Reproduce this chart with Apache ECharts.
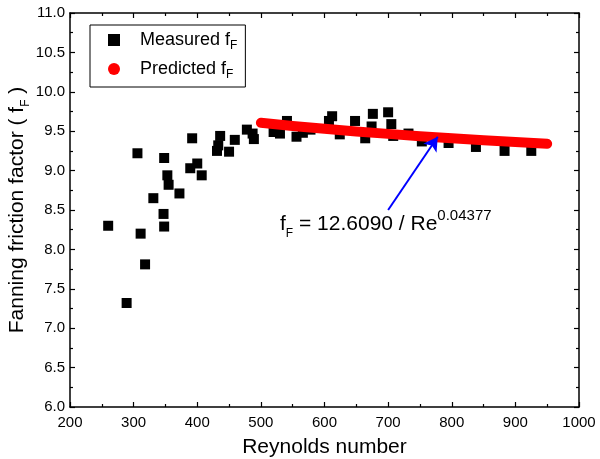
<!DOCTYPE html>
<html>
<head>
<meta charset="utf-8">
<script src="https://cdn.jsdelivr.net/npm/echarts@6/dist/echarts.min.js"></script>
<style>html,body{margin:0;padding:0;background:#fff}#c{width:600px;height:459px}</style>
</head>
<body>
<div id="c"></div>
<script>
// Measured friction factor: [Reynolds number, fF]
const measuredRe = [260, 289, 306, 311, 318, 331, 347, 348, 348, 353, 355, 372, 389, 392, 400, 407, 431, 433, 436, 450, 459, 478, 487, 489,
  520, 530, 541, 556, 566, 578, 607, 612, 624, 648, 664, 674, 676, 700, 705, 708, 732, 753, 795, 838, 883, 925];
const measuredF = [8.30, 7.32, 9.22, 8.20, 7.81, 8.65, 8.45, 8.29, 9.16, 8.94, 8.82, 8.71, 9.03, 9.41, 9.09, 8.94, 9.25, 9.32, 9.44, 9.24, 9.39, 9.52, 9.47, 9.40,
  9.49, 9.47, 9.63, 9.43, 9.48, 9.52, 9.63, 9.69, 9.46, 9.63, 9.41, 9.56, 9.72, 9.74, 9.59, 9.44, 9.47, 9.37, 9.35, 9.30, 9.25, 9.25];
// Predicted friction factor curve
const predRe = [500, 550, 600, 650, 700, 750, 800, 850, 900, 950];
const predF  = [9.606, 9.566, 9.530, 9.496, 9.466, 9.437, 9.411, 9.386, 9.362, 9.340];
// Arrow annotation (data coordinates): tail, head
const arrowTail = [700, 8.50];
const arrowHead = [778, 9.43];
const xTicks = {min: 200, max: 1000, interval: 100};
const yTicks = {min: 6.0, max: 11.0, interval: 0.5};

const FONT = 'Liberation Sans, Arial, sans-serif';
const chart = echarts.init(document.getElementById('c'), null, {renderer: 'canvas'});

const axisCommon = {
  axisLine: {show: true, lineStyle: {color: '#000', width: 1.5}},
  axisTick: {show: true, inside: true, length: 5, lineStyle: {color: '#000', width: 1.2}},
  minorTick: {show: true, splitNumber: 2, length: 3, lineStyle: {color: '#000', width: 1.2}},
  splitLine: {show: false}
};

const option = {
  animation: false,
  backgroundColor: '#fff',
  textStyle: {fontFamily: FONT},
  grid: {left: 70, right: 21, top: 13, bottom: 52, containLabel: false, outerBoundsMode: 'none'},
  legend: {
    left: 90, top: 25,
    orient: 'vertical',
    borderColor: '#000', borderWidth: 1,
    padding: [6, 8, 6, 18],
    itemGap: 8,
    itemWidth: 12, itemHeight: 12,
    data: [
      {name: 'Measured', icon: 'rect'},
      {name: 'Predicted', icon: 'circle'}
    ],
    formatter: function (n) { return '{a|' + n + ' f}{s|F}'; },
    textStyle: {
      color: '#000',
      rich: {
        a: {fontSize: 18, fontFamily: FONT, color: '#000', lineHeight: 24, verticalAlign: 'middle', padding: [0, 0, 0, 15]},
        s: {fontSize: 12, fontFamily: FONT, color: '#000', lineHeight: 12, verticalAlign: 'bottom'}
      }
    }
  },
  xAxis: [
    Object.assign({
      type: 'value', min: xTicks.min, max: xTicks.max, interval: xTicks.interval,
      name: 'Reynolds number', nameLocation: 'middle', nameGap: 30,
      nameTextStyle: {fontSize: 21, color: '#000', fontFamily: FONT},
      axisLabel: {fontSize: 15, color: '#000', margin: 8, fontFamily: FONT, formatter: v => String(v)}
    }, axisCommon),
    Object.assign({
      type: 'value', position: 'top', min: xTicks.min, max: xTicks.max, interval: xTicks.interval,
      axisLabel: {show: false}
    }, axisCommon)
  ],
  yAxis: [
    Object.assign({
      type: 'value', min: yTicks.min, max: yTicks.max, interval: yTicks.interval,
      name: '{a|Fanning friction factor ( f}{s|F}{a| )}', nameLocation: 'middle', nameGap: 38,
      nameMoveOverlap: false,
      nameTextStyle: {
        color: '#000',
        rich: {
          a: {fontSize: 21, fontFamily: FONT, color: '#000', lineHeight: 30, verticalAlign: 'middle'},
          s: {fontSize: 12, fontFamily: FONT, color: '#000', lineHeight: 12, verticalAlign: 'bottom'}
        }
      },
      axisLabel: {fontSize: 15, color: '#000', margin: 5, fontFamily: FONT, formatter: v => v.toFixed(1)}
    }, axisCommon),
    Object.assign({
      type: 'value', position: 'right', min: yTicks.min, max: yTicks.max, interval: yTicks.interval,
      axisLabel: {show: false}
    }, axisCommon)
  ],
  series: [
    {
      name: 'Measured', type: 'scatter', symbol: 'rect', symbolSize: 10,
      itemStyle: {color: '#000', opacity: 1},
      data: measuredRe.map((x, i) => [x, measuredF[i]]),
      markLine: {
        silent: true, symbol: ['none', 'arrow'], symbolSize: [12, 14],
        label: {show: false},
        lineStyle: {color: '#0000ff', width: 2, type: 'solid'},
        data: [[{coord: arrowTail}, {coord: arrowHead}]]
      },
      z: 2
    },
    {
      name: 'Predicted', type: 'line', showSymbol: false, symbol: 'circle', symbolSize: 10,
      itemStyle: {color: '#ff0000'},
      lineStyle: {color: '#ff0000', width: 10, cap: 'round', join: 'round'},
      data: predRe.map((x, i) => [x, predF[i]]),
      z: 3
    }
  ],
  graphic: [{
    type: 'text', left: 280, top: 208, z: 10,
    style: {
      text: '{m|f}{s|F}{m| = 12.6090 / Re}{p|0.04377}',
      rich: {
        m: {fontSize: 21, fontFamily: FONT, fill: '#000', lineHeight: 32, verticalAlign: 'middle'},
        s: {fontSize: 12, fontFamily: FONT, fill: '#000', lineHeight: 12, verticalAlign: 'bottom'},
        p: {fontSize: 15, fontFamily: FONT, fill: '#000', lineHeight: 15, verticalAlign: 'top'}
      }
    }
  }]
};
chart.setOption(option);
</script>
</body>
</html>
